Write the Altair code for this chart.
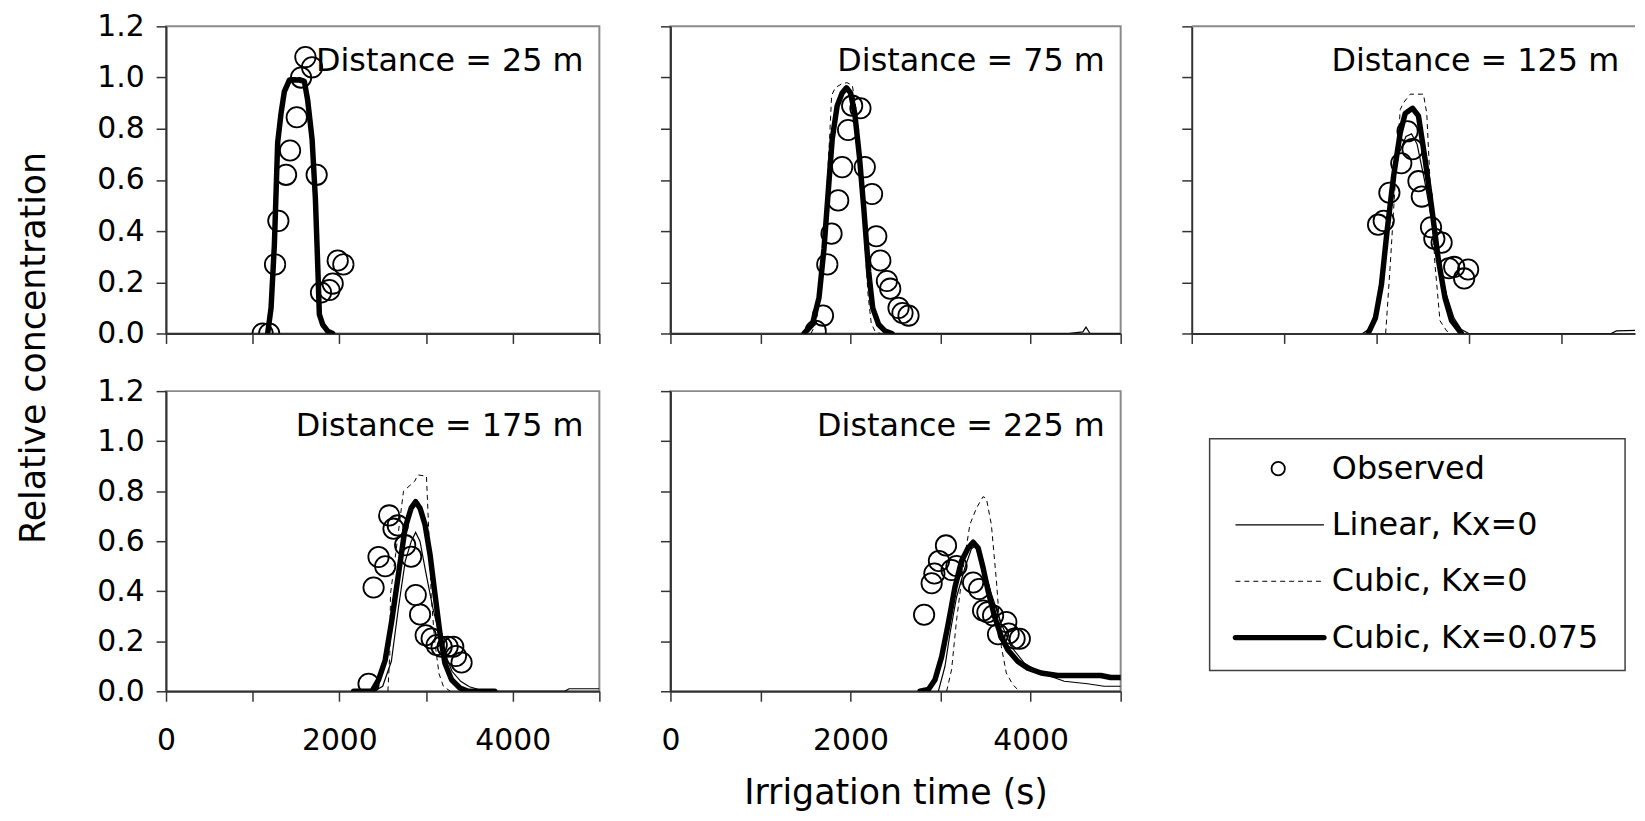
import altair as alt
import pandas as pd

FONT = "DejaVu Sans"

# ---------------- data (irrigation time s, relative concentration) ----------------
LABELS = ["Distance = 25 m", "Distance = 75 m", "Distance = 125 m",
          "Distance = 175 m", "Distance = 225 m"]
LEGEND = ["Observed", "Linear, Kx=0", "Cubic, Kx=0", "Cubic, Kx=0.075"]
X_TICKS = [0, 1000, 2000, 3000, 4000, 5000]
Y_TICKS = [0, 0.2, 0.4, 0.6, 0.8, 1.0, 1.2]

# 25 m
OBS_25 = [(1115, 0.0), (1190, 0.0), (1258, 0.27), (1296, 0.44), (1385, 0.62), (1431, 0.715),
          (1508, 0.845), (1558, 1.0), (1608, 1.08), (1685, 1.04), (1738, 0.62), (1788, 0.16),
          (1885, 0.17), (1923, 0.195), (1981, 0.285), (2046, 0.27)]
LIN_25 = [(1165, 0), (1205, 0.1), (1245, 0.36), (1285, 0.75), (1325, 0.87), (1365, 0.95),
          (1420, 0.99), (1540, 1.0), (1600, 0.99), (1640, 0.92), (1690, 0.75), (1725, 0.5),
          (1752, 0.25), (1772, 0.07), (1810, 0.03), (1870, 0.005), (1930, 0)]
CUB_25 = [(1170, 0), (1210, 0.12), (1248, 0.37), (1286, 0.76), (1325, 0.88), (1365, 0.96),
          (1420, 1.0), (1540, 1.0), (1600, 0.995), (1645, 0.93), (1690, 0.76), (1725, 0.5),
          (1752, 0.24), (1770, 0.06), (1805, 0.02), (1860, 0)]
KX_25 = [(1173, 0), (1212, 0.1), (1250, 0.345), (1288, 0.745), (1327, 0.86), (1365, 0.945),
         (1423, 0.99), (1538, 0.99), (1596, 0.985), (1635, 0.91), (1685, 0.76), (1723, 0.53),
         (1750, 0.27), (1769, 0.075), (1808, 0.035), (1865, 0.009), (1923, 0)]

# 75 m
OBS_75 = [(1613, 0.01), (1694, 0.07), (1742, 0.27), (1789, 0.39), (1863, 0.52), (1907, 0.65),
          (1973, 0.795), (2018, 0.89), (2110, 0.88), (2158, 0.65), (2239, 0.545), (2286, 0.38),
          (2331, 0.285), (2404, 0.205), (2441, 0.175), (2533, 0.10), (2577, 0.08), (2644, 0.07)]
LIN_75 = [(1500, 0), (1580, 0.03), (1650, 0.13), (1705, 0.33), (1760, 0.6), (1800, 0.78),
          (1850, 0.9), (1910, 0.95), (1955, 0.965), (2000, 0.95), (2050, 0.86), (2100, 0.68),
          (2150, 0.47), (2200, 0.24), (2245, 0.09), (2310, 0.03), (2400, 0.005), (2500, 0),
          (4420, 0), (4580, 0.006), (4615, 0.025), (4660, 0), (5000, 0)]
CUB_75 = [(1560, 0), (1620, 0.04), (1680, 0.22), (1730, 0.52), (1770, 0.78), (1790, 0.93),
          (1830, 0.96), (1900, 0.975), (1960, 0.98), (2020, 0.97), (2060, 0.88), (2100, 0.65),
          (2150, 0.4), (2195, 0.15), (2230, 0.04), (2270, 0.01), (2330, 0)]
KX_75 = [(1484, 0), (1576, 0.035), (1650, 0.14), (1705, 0.33), (1760, 0.59), (1797, 0.76),
         (1852, 0.89), (1907, 0.94), (1955, 0.96), (2000, 0.94), (2047, 0.86), (2099, 0.69),
         (2147, 0.49), (2202, 0.24), (2246, 0.10), (2312, 0.035), (2386, 0.009), (2460, 0)]

# 125 m
OBS_125 = [(2018, 0.425), (2079, 0.44), (2140, 0.55), (2269, 0.665), (2337, 0.79), (2391, 0.72),
           (2455, 0.595), (2491, 0.535), (2591, 0.415), (2627, 0.37), (2706, 0.355),
           (2785, 0.255), (2842, 0.26), (2950, 0.215), (2993, 0.25)]
LIN_125 = [(1850, 0), (1930, 0.02), (2000, 0.1), (2080, 0.3), (2160, 0.52), (2240, 0.7),
           (2320, 0.77), (2380, 0.78), (2440, 0.74), (2520, 0.6), (2600, 0.44), (2680, 0.28),
           (2760, 0.15), (2840, 0.06), (2920, 0.015), (3000, 0), (4540, 0), (4600, 0.01),
           (4840, 0.012), (5000, 0.012)]
CUB_125 = [(2100, 0), (2150, 0.27), (2204, 0.59), (2258, 0.875), (2290, 0.9), (2366, 0.935),
           (2509, 0.935), (2545, 0.86), (2581, 0.59), (2634, 0.27), (2688, 0.05), (2760, 0.01),
           (2814, 0)]
KX_125 = [(1910, 0), (1989, 0.06), (2054, 0.19), (2115, 0.40), (2186, 0.615), (2258, 0.785),
          (2312, 0.86), (2391, 0.88), (2455, 0.85), (2527, 0.68), (2599, 0.49), (2670, 0.29),
          (2742, 0.14), (2814, 0.05), (2921, 0)]

# 175 m
OBS_175 = [(2337, 0.03), (2395, 0.415), (2452, 0.537), (2529, 0.50), (2575, 0.703), (2625, 0.65),
           (2674, 0.663), (2759, 0.584), (2828, 0.538), (2881, 0.385), (2931, 0.307),
           (2996, 0.224), (3065, 0.211), (3123, 0.185), (3180, 0.178), (3249, 0.178),
           (3314, 0.178), (3345, 0.141), (3410, 0.115)]
LIN_175 = [(2400, 0), (2500, 0.02), (2600, 0.12), (2680, 0.33), (2760, 0.52), (2830, 0.6),
           (2880, 0.635), (2930, 0.6), (3000, 0.47), (3080, 0.33), (3160, 0.22), (3220, 0.15),
           (3300, 0.08), (3400, 0.04), (3500, 0.018), (3580, 0.01), (3650, 0), (4600, 0),
           (4650, 0.01), (5000, 0.01)]
CUB_175 = [(2560, 0), (2582, 0.15), (2590, 0.39), (2650, 0.55), (2740, 0.80), (2870, 0.84),
           (2905, 0.865), (3005, 0.86), (3040, 0.57), (3060, 0.38), (3100, 0.2), (3150, 0.07),
           (3200, 0.02), (3280, 0)]
KX_175 = [(2165, 0), (2375, 0), (2452, 0.046), (2529, 0.125), (2605, 0.283), (2682, 0.468),
          (2759, 0.653), (2828, 0.732), (2881, 0.758), (2931, 0.732), (2989, 0.666),
          (3046, 0.547), (3103, 0.389), (3161, 0.231), (3218, 0.112), (3295, 0.046),
          (3391, 0.013), (3487, 0), (3793, 0)]

# 225 m
OBS_225 = [(2817, 0.306), (2901, 0.432), (2931, 0.471), (2982, 0.521), (3060, 0.583),
           (3122, 0.485), (3177, 0.501), (3361, 0.435), (3428, 0.409), (3472, 0.323),
           (3520, 0.316), (3583, 0.303), (3638, 0.228), (3730, 0.277), (3756, 0.231),
           (3822, 0.211), (3880, 0.21)]
LIN_225 = [(2975, 0), (3049, 0.1), (3104, 0.23), (3177, 0.376), (3270, 0.494), (3343, 0.57),
           (3380, 0.58), (3430, 0.55), (3500, 0.47), (3564, 0.389), (3675, 0.27), (3785, 0.178),
           (3932, 0.112), (4116, 0.073), (4374, 0.04), (4632, 0.03), (4816, 0.02), (5000, 0.02)]
CUB_225 = [(3067, 0), (3122, 0.086), (3177, 0.283), (3251, 0.494), (3325, 0.666), (3398, 0.732),
           (3472, 0.778), (3509, 0.771), (3564, 0.666), (3620, 0.442), (3675, 0.178),
           (3730, 0.073), (3803, 0.026), (3877, 0)]
KX_225 = [(2772, 0), (2865, 0.007), (2938, 0.046), (3012, 0.138), (3085, 0.27), (3159, 0.415),
          (3233, 0.521), (3306, 0.573), (3362, 0.596), (3417, 0.573), (3472, 0.494),
          (3527, 0.402), (3601, 0.297), (3675, 0.218), (3748, 0.165), (3859, 0.119),
          (3969, 0.092), (4116, 0.073), (4300, 0.063), (4779, 0.063), (4890, 0.055),
          (5000, 0.055)]


def frame(pts):
    return pd.DataFrame(pts, columns=["t", "c"])


def panel(label, obs, lin, cub, kx, w, h, xmax, xlabels, ylabels,
          ytitle=False, xtitle=False, box=True):
    xkw = dict(values=[v for v in X_TICKS if v <= xmax], format="d", labels=xlabels,
               labelExpr="datum.value % 2000 == 0 ? datum.label : ''",
               labelFlush=False, labelOverlap=False, labelPadding=25)
    if xtitle:
        xkw.update(title="Irrigation time (s)", titleY=102, titleBaseline="middle")
    else:
        xkw.update(title=None)
    ykw = dict(values=Y_TICKS, format=".1f", labels=ylabels, labelFlush=False,
               labelOverlap=False, labelPadding=12)
    if ytitle:
        ykw.update(title="Relative concentration", titleX=-133, titleY=323,
                   titleAngle=270, titleAlign="center", titleBaseline="middle")
    else:
        ykw.update(title=None)
    x = alt.X("t:Q", scale=alt.Scale(domain=[0, xmax], nice=False, zero=False),
              axis=alt.Axis(**xkw))
    y = alt.Y("c:Q", scale=alt.Scale(domain=[0, 1.2], nice=False), axis=alt.Axis(**ykw))

    lin_l = alt.Chart(frame(lin)).mark_line(color="black", strokeWidth=1.2, clip=True).encode(x=x, y=y)
    cub_l = alt.Chart(frame(cub)).mark_line(color="black", strokeWidth=1, strokeDash=[5, 4],
                                            clip=True).encode(x=x, y=y)
    kx_l = alt.Chart(frame(kx)).mark_line(color="black", strokeWidth=5.5, strokeCap="round",
                                          strokeJoin="round", clip=True).encode(x=x, y=y)
    obs_l = alt.Chart(frame(obs)).mark_point(shape="circle", filled=False, size=420,
                                             strokeWidth=1.8, color="black", opacity=1,
                                             clip=True).encode(x=x, y=y)
    txt = alt.Chart(pd.DataFrame({"label": [label]})).mark_text(
        align="right", baseline="middle", fontSize=32, font=FONT, color="black"
    ).encode(x=alt.value(w - 16), y=alt.value(35), text="label:N")
    layers = [lin_l, cub_l, kx_l, obs_l, txt]
    if not box:
        top = alt.Chart(pd.DataFrame({"a": [0]})).mark_rule(color="#8a8a8a", strokeWidth=2).encode(
            x=alt.value(0), x2=alt.value(w), y=alt.value(0))
        layers.append(top)
    return alt.layer(*layers).properties(
        width=w, height=h,
        view=alt.ViewBackground(stroke="#8a8a8a" if box else "transparent", strokeWidth=2))


p1 = panel(LABELS[0], OBS_25, LIN_25, CUB_25, KX_25, 436, 309, 5000, False, True, ytitle=True)
p2 = panel(LABELS[1], OBS_75, LIN_75, CUB_75, KX_75, 453, 309, 5000, False, False)
p3 = panel(LABELS[2], OBS_125, LIN_125, CUB_125, KX_125, 446, 309, 4800, False, False, box=False)
p4 = panel(LABELS[3], OBS_175, LIN_175, CUB_175, KX_175, 436, 302, 5000, True, True)
p5 = panel(LABELS[4], OBS_225, LIN_225, CUB_225, KX_225, 453, 302, 5000, True, False, xtitle=True)

# legend panel
ly = alt.Y("s:N", scale=alt.Scale(type="point", domain=LEGEND, range=[78, 248], padding=0),
           axis=None)
one = pd.DataFrame({"a": [0]})
leg_box = alt.Chart(one).mark_rect(fill="white", stroke="#404040", strokeWidth=1.5).encode(
    x=alt.value(18), x2=alt.value(436), y=alt.value(48), y2=alt.value(281))
leg_circ = alt.Chart(pd.DataFrame({"s": [LEGEND[0]]})).mark_point(
    shape="circle", filled=False, size=180, strokeWidth=1.8, color="black", opacity=1
).encode(x=alt.value(87), y=ly)
leg_lin = alt.Chart(pd.DataFrame({"s": [LEGEND[1]]})).mark_rule(color="black", strokeWidth=1.2).encode(
    x=alt.value(44), x2=alt.value(133), y=ly)
leg_cub = alt.Chart(pd.DataFrame({"s": [LEGEND[2]]})).mark_rule(
    color="black", strokeWidth=1, strokeDash=[5, 4]).encode(x=alt.value(44), x2=alt.value(133), y=ly)
leg_kx = alt.Chart(pd.DataFrame({"s": [LEGEND[3]]})).mark_rule(
    color="black", strokeWidth=5.5, strokeCap="round").encode(x=alt.value(44), x2=alt.value(133), y=ly)
leg_txt = alt.Chart(pd.DataFrame({"s": LEGEND})).mark_text(
    align="left", baseline="middle", fontSize=32, font=FONT, color="black"
).encode(x=alt.value(141), y=ly, text="s:N")
leg = alt.layer(leg_box, leg_lin, leg_cub, leg_kx, leg_circ, leg_txt).properties(
    width=440, height=302, view=alt.ViewBackground(stroke="transparent"))

chart = alt.concat(
    p1, p2, p3, p4, p5, leg, columns=3,
    spacing={"row": 58, "column": 71.5}, bounds="flush", align="each"
).properties(
    padding={"left": 8, "top": 0, "right": 0, "bottom": 0}
).configure_axis(
    labelFont=FONT, labelFontSize=30, labelColor="black",
    titleFont=FONT, titleFontSize=35, titleFontWeight="normal", titleColor="black",
    domainColor="#333333", domainWidth=2, tickColor="#333333", tickWidth=1.5,
    tickSize=10, grid=False
).configure_view(strokeWidth=2)

chart.save("out.html", embed_options={"renderer": "svg", "actions": False})
